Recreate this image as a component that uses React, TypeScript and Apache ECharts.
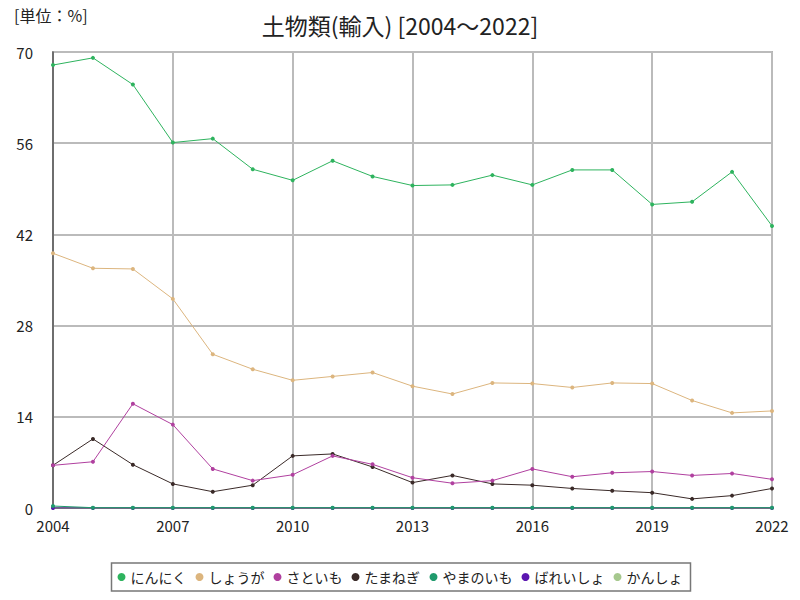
import React, { useEffect, useRef } from "react";
import * as echarts from "echarts";

const years = [2004, 2005, 2006, 2007, 2008, 2009, 2010, 2011, 2012, 2013, 2014, 2015, 2016, 2017, 2018, 2019, 2020, 2021, 2022];
const seriesNames = ["にんにく", "しょうが", "さといも", "たまねぎ", "やまのいも", "ばれいしょ", "かんしょ"];
const ninniku = [68.0, 69.1, 65.0, 56.1, 56.7, 52.0, 50.3, 53.3, 50.9, 49.5, 49.6, 51.1, 49.6, 51.9, 51.9, 46.6, 47.0, 51.6, 43.3];
const shouga = [39.1, 36.8, 36.7, 32.1, 23.6, 21.3, 19.6, 20.2, 20.8, 18.7, 17.5, 19.2, 19.1, 18.5, 19.2, 19.1, 16.5, 14.6, 14.9];
const satoimo = [6.55, 7.1, 16.0, 12.8, 6.0, 4.2, 5.1, 8.0, 6.7, 4.65, 3.8, 4.2, 6.0, 4.8, 5.4, 5.6, 5.0, 5.3, 4.4];
const tamanegi = [6.55, 10.6, 6.65, 3.7, 2.5, 3.5, 8.0, 8.3, 6.3, 3.9, 5.0, 3.7, 3.5, 3.0, 2.65, 2.35, 1.4, 1.9, 3.0];
const yamanoimo = [0.3, 0.05, 0.05, 0.05, 0.05, 0.05, 0.05, 0.05, 0.05, 0.05, 0.05, 0.05, 0.05, 0.05, 0.05, 0.05, 0.05, 0.05, 0.05];
const bareisho = [0, 0, 0, 0, 0, 0, 0, 0, 0, 0, 0, 0, 0, 0, 0, 0, 0, 0, 0];
const kansho = [0, 0, 0, 0, 0, 0, 0, 0, 0, 0, 0, 0, 0, 0, 0, 0, 0, 0, 0];
const colors = ["#2eb35e", "#dcb57e", "#b0409f", "#3a2a28", "#1f9a6c", "#5b16b0", "#a6c88e"];

const FONT = "'Noto Sans CJK JP', sans-serif";

export default function App() {
  const ref = useRef<HTMLDivElement>(null);
  useEffect(() => {
    if (!ref.current) return;
    const chart = echarts.init(ref.current, null, { renderer: "svg" });
    const allData = [ninniku, shouga, satoimo, tamanegi, yamanoimo, bareisho, kansho];
    const series = seriesNames.map((name, i) => ({
      name,
      type: "line",
      data: years.map((y, j) => [y, allData[i][j]]),
      symbol: "circle",
      symbolSize: 4,
      showSymbol: true,
      lineStyle: { width: 1, color: colors[i] },
      itemStyle: { color: colors[i] },
      z: 10 - i,
    }));
    chart.setOption({
      animation: false,
      textStyle: { fontFamily: FONT },
      title: {
        text: "土物類(輸入) [2004～2022]",
        left: "center",
        top: 8,
        textStyle: { fontSize: 23, fontWeight: "normal", color: "#222", fontFamily: FONT },
      },
      graphic: [
        {
          type: "text",
          left: 14,
          top: 7,
          style: { text: "[単位：%]", fontSize: 16, fill: "#222", fontFamily: FONT },
        },
      ],
      legend: {
        data: seriesNames,
        bottom: 9,
        left: "center",
        icon: "circle",
        itemWidth: 8,
        itemHeight: 8,
        itemGap: 9,
        borderColor: "#777",
        borderWidth: 1.5,
        padding: [7, 8, 7, 6],
        textStyle: { fontSize: 14, color: "#222", fontFamily: FONT },
      },
      grid: {
        left: 53,
        right: 28,
        top: 52,
        bottom: 92,
        show: true,
        borderColor: "#777",
        borderWidth: 1.5,
      },
      xAxis: {
        type: "value",
        min: 2004,
        max: 2022,
        interval: 3,
        axisLine: { show: true, lineStyle: { color: "#555", width: 1.5 } },
        axisTick: { show: false },
        axisLabel: { fontSize: 15, color: "#222", margin: 10, fontFamily: FONT, formatter: (v: number) => String(v) },
        splitLine: { show: true, lineStyle: { color: "#bbb", width: 2 } },
      },
      yAxis: {
        type: "value",
        min: 0,
        max: 70,
        interval: 14,
        axisLine: { show: true, lineStyle: { color: "#555", width: 1.5 } },
        axisTick: { show: false },
        axisLabel: { fontSize: 15, color: "#222", margin: 20, fontFamily: FONT },
        splitLine: { show: true, lineStyle: { color: "#bbb", width: 2 } },
      },
      series,
    });
    return () => chart.dispose();
  }, []);
  return <div ref={ref} style={{ width: 800, height: 600, margin: -8 }} />;
}
